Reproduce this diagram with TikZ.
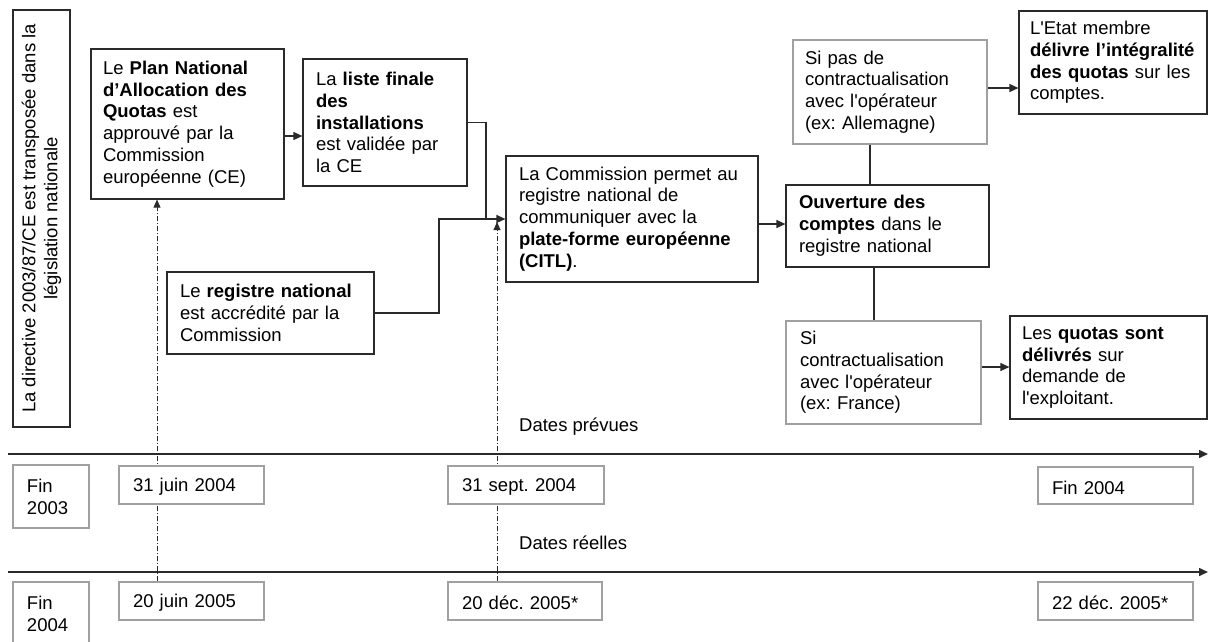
\documentclass[tikz,border=0pt]{standalone}
\usepackage{fontspec}
\setmainfont{Liberation Sans}
\usetikzlibrary{arrows.meta,backgrounds}
\definecolor{bk}{HTML}{2A2A2A}
\definecolor{gr}{HTML}{A0A0A0}
\frenchspacing
\newcommand\bxnode[8]{%
  \pgfmathsetmacro\bw{#5-#3}\pgfmathsetmacro\bh{#6-#4}\pgfmathsetmacro\tw{#5-#3-2*#7}%
  \node[#1, inner xsep=#7pt, text width=\tw pt, minimum width=\bw pt, minimum height=\bh pt] (#2) at ({(#3+#5)/2},{(#4+#6)/2}) {#8};}
\newcommand\dtxt[1]{\raisebox{-2pt}[\height][\depth]{#1}}
\begin{document}
\begin{tikzpicture}[x=1pt,y=-1pt,
  every node/.style={font=\fontsize{18.5}{21.8}\selectfont\frenchspacing},
  bx/.style={draw=bk, line width=1.2pt, fill=white, align=left, inner ysep=0pt},
  gbx/.style={bx, draw=gr},
  conn/.style={draw=bk, line width=1.3pt},
  arr/.style={conn, -{Triangle[length=9pt,width=8pt]}},
  dd/.style={draw=bk, line width=0.9pt, dash pattern=on 5pt off 2pt on 1pt off 2pt},
  lbl/.style={anchor=west, inner sep=0pt}]
\useasboundingbox (0,0) rectangle (1208,641);
% vertical box
\node[bx, rotate=90, align=center, minimum width=417pt, minimum height=57pt, inner sep=0pt] (dir) at (41.5,218.5)
  {La directive 2003/87/CE est transposée dans la\\législation nationale};
% upper boxes
\bxnode{bx}{plan}{91}{49}{284}{199}{12}{Le \textbf{Plan National}\\\textbf{d’Allocation des}\\\textbf{Quotas} est\\approuvé par la\\Commission\\européenne (CE)}
\bxnode{bx}{liste}{303}{59}{467}{186}{13}{La \textbf{liste finale}\\\textbf{des}\\\textbf{installations}\\est validée par\\la CE}
\bxnode{bx}{reg}{167}{272}{374}{354}{13}{Le \textbf{registre national}\\est accrédité par la\\Commission}
\bxnode{bx}{citl}{506}{156}{758}{282}{13}{La Commission permet au\\registre national de\\communiquer avec la\\\textbf{plate-forme européenne}\\\textbf{(CITL)}.}
\bxnode{bx}{ouv}{786}{185}{989}{267}{13}{\textbf{Ouverture des}\\\textbf{comptes} dans le\\registre national}
\bxnode{gbx}{sipas}{793}{40}{987}{144}{12}{Si pas de\\contractualisation\\avec l\textquotesingle opérateur\\(ex: Allemagne)}
\bxnode{bx}{etat}{1019}{11}{1207}{114}{11}{L\textquotesingle Etat membre\\\textbf{délivre l’intégralité}\\\textbf{des quotas} sur les\\comptes.}
\bxnode{gbx}{si}{786}{321}{981}{424}{14}{Si\\contractualisation\\avec l\textquotesingle opérateur\\(ex: France)}
\bxnode{bx}{quotas}{1010}{316}{1207}{419}{12}{Les \textbf{quotas sont}\\\textbf{délivrés} sur\\demande de\\l\textquotesingle exploitant.}
% date boxes
\bxnode{gbx}{fin03}{13}{465}{89}{528}{14}{Fin\\2003}
\bxnode{gbx}{d1}{119}{466}{264}{504}{14}{\dtxt{31 juin 2004}}
\bxnode{gbx}{d2}{448}{466}{604}{504}{14}{\dtxt{31 sept. 2004}}
\bxnode{gbx}{d3}{1038}{467}{1193}{504}{14}{\dtxt{Fin 2004}}
\bxnode{gbx}{fin04}{13}{582}{89}{646}{14}{Fin\\2004}
\bxnode{gbx}{d4}{119}{582}{264}{620}{14}{\dtxt{20 juin 2005}}
\bxnode{gbx}{d5}{448}{582}{602}{620}{14}{\dtxt{20 déc. 2005*}}
\bxnode{gbx}{d6}{1038}{582}{1193}{620}{14}{\dtxt{22 déc. 2005*}}
% labels
\node[lbl] (lp) at (519,427) {Dates prévues};
\node[lbl] (lr) at (519,543) {Dates réelles};
% coordinates
\coordinate (t1s) at (8,454); \coordinate (t1e) at (1208,454);
\coordinate (t2s) at (8,572); \coordinate (t2e) at (1208,572);
\coordinate (v1) at (157,0); \coordinate (tip2) at (497,222);
\coordinate (j1) at (486,219); \coordinate (j2) at (439,219);
\coordinate (h136) at (0,136); \coordinate (h224) at (0,224);
\coordinate (h88) at (0,88); \coordinate (h367) at (0,367);
\coordinate (vx1) at (870,0); \coordinate (vx2) at (874,0);
\begin{pgfonlayer}{background}
\draw[arr, line width=1.5pt] (t1s) -- (t1e);
\draw[arr, line width=1.5pt] (t2s) -- (t2e);
\draw[dd, -{Triangle[length=8pt,width=7pt]}] (d4.north -| v1) -- (plan.south -| v1);
\draw[dd, -{Triangle[length=8pt,width=7pt]}] (d5.north -| tip2) -- (tip2);
\end{pgfonlayer}
% connectors
\draw[arr] (plan.east |- h136) -- (liste.west |- h136);
\draw[conn] (reg.east) -| (j2) -- (j1);
\draw[arr] (liste.east) -| (j1) -- (citl.west);
\draw[arr] (citl.east |- h224) -- (ouv.west |- h224);
\draw[arr] (sipas.east |- h88) -- (etat.west |- h88);
\draw[arr] (si.east |- h367) -- (quotas.west |- h367);
\draw[conn] (sipas.south -| vx1) -- (ouv.north -| vx1);
\draw[conn] (ouv.south -| vx2) -- (si.north -| vx2);
\end{tikzpicture}
\end{document}
